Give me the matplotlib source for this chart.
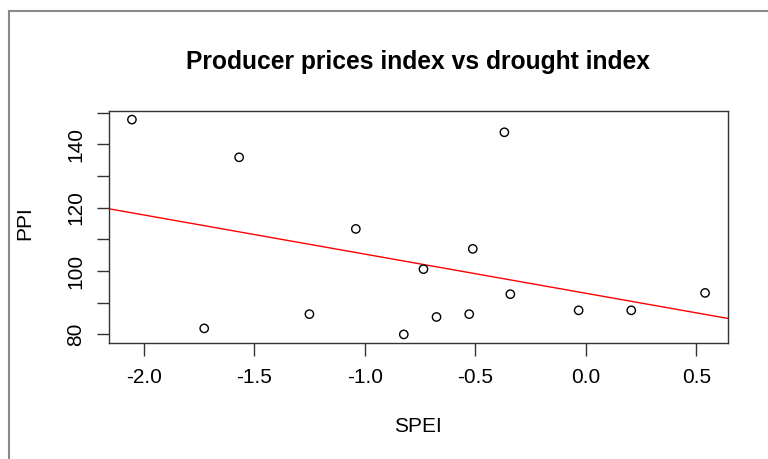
import numpy as np
import matplotlib
matplotlib.use("Agg")
import matplotlib.pyplot as plt
from matplotlib.lines import Line2D

spei = [-2.054, -1.727, -1.569, -1.251, -1.041, -0.824, -0.735, -0.676,
        -0.528, -0.512, -0.369, -0.342, -0.033, 0.205, 0.539]
ppi = [147.8, 81.9, 135.9, 86.4, 113.3, 80.0, 100.6, 85.5,
       86.4, 107.0, 143.8, 92.7, 87.6, 87.6, 93.1]
xticks = [-2.0, -1.5, -1.0, -0.5, 0.0, 0.5]
yticks = [80, 100, 120, 140]
yminor = [90, 110, 130, 150]
title = "Producer prices index vs drought index"
xlabel = "SPEI"
ylabel = "PPI"

plt.rcParams['font.family'] = ['Liberation Sans', 'DejaVu Sans']

W, H = 768, 459
fig = plt.figure(figsize=(W / 100, H / 100), dpi=100)
L, R, T, B = 109, 728, 111, 343
ax = fig.add_axes([L / W, 1 - B / H, (R - L) / W, (B - T) / H])

x = np.array(spei)
y = np.array(ppi)
ax.scatter(x, y, s=36, facecolors='none', edgecolors='black', linewidths=1.0, zorder=3)

xr = x.max() - x.min()
yr = y.max() - y.min()
xlim = (x.min() - 0.04 * xr, x.max() + 0.04 * xr)
ylim = (y.min() - 0.04 * yr, y.max() + 0.04 * yr)
ax.set_xlim(xlim)
ax.set_ylim(ylim)

b, a = np.polyfit(x, y, 1)
xx = np.array(xlim)
ax.plot(xx, a + b * xx, color='red', lw=1.0, zorder=2, clip_on=True)

ax.set_xticks(xticks)
ax.set_xticklabels(["%.1f" % v for v in xticks])
ax.set_yticks(yticks)
ax.set_yticks(yminor, minor=True)
ax.set_yticklabels([str(v) for v in yticks])
for sp in ax.spines.values():
    sp.set_color('#333333')
    sp.set_linewidth(1.0)
ax.tick_params(axis='x', length=9, width=1, color='#333333', pad=9, labelsize=15)
ax.tick_params(axis='y', which='both', length=9, width=1, color='#333333', pad=8,
               labelsize=15, labelrotation=90)
ax.tick_params(axis='y', which='minor', labelleft=False)
for lab in ax.get_yticklabels():
    lab.set_va('center')

fig.text((L + R) / 2 / W, 1 - 62 / H, title, ha='center', va='center',
         fontsize=17.7, fontweight='bold')
fig.text(418 / W, 1 - 427 / H, xlabel, ha='center', va='center', fontsize=15)
fig.text(25 / W, 1 - 223 / H, ylabel, ha='center', va='center', fontsize=15, rotation=90)

fig.add_artist(Line2D([9 / W, 9 / W], [0, 1 - 11 / H], color='#8a8a8a', lw=1.5,
                      transform=fig.transFigure))
fig.add_artist(Line2D([9 / W, 1], [1 - 11 / H, 1 - 11 / H], color='#8a8a8a', lw=1.5,
                      transform=fig.transFigure))

fig.savefig("out.png", dpi=100)
